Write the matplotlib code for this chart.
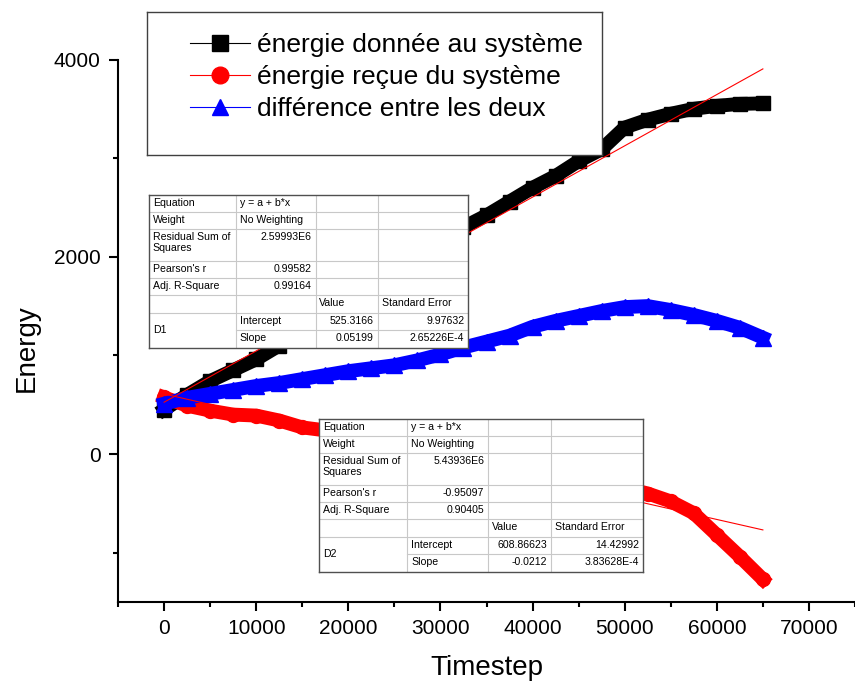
import matplotlib
matplotlib.use("Agg")
import matplotlib.pyplot as plt
from matplotlib.lines import Line2D
from matplotlib.ticker import MultipleLocator

plt.rcParams["font.family"] = ["Liberation Sans", "DejaVu Sans"]

# data
timestep = [0, 2500, 5000, 7500, 10000, 12500, 15000, 17500, 20000, 22500, 25000,
            27500, 30000, 32500, 35000, 37500, 40000, 42500, 45000, 47500, 50000,
            52500, 55000, 57500, 60000, 62500, 65000]
energie_donnee = [450, 600, 740, 850, 960, 1100, 1250, 1400, 1560, 1700, 1850,
                  2000, 2150, 2300, 2420, 2560, 2700, 2820, 2970, 3090, 3310,
                  3390, 3450, 3500, 3530, 3550, 3555]
energie_recue = [575, 490, 440, 400, 390, 340, 270, 240, 200, 150, 100,
                 50, 0, -60, -110, -150, -180, -200, -230, -280, -340,
                 -400, -480, -600, -820, -1040, -1270]
difference = [510, 570, 610, 650, 690, 720, 760, 800, 840, 870, 900,
              950, 1010, 1080, 1140, 1200, 1290, 1350, 1400, 1450, 1490,
              1500, 1460, 1410, 1350, 1280, 1180]

series_labels = ["énergie donnée au système", "énergie reçue du système",
                 "différence entre les deux"]

# linear fits (Origin tables)
fit1_a, fit1_b = 525.3166, 0.05199
fit2_a, fit2_b = 608.86623, -0.0212

stat_names = ["Equation", "Weight", "Residual Sum of\nSquares", "Pearson's r", "Adj. R-Square"]
fit1_stats = ["y = a + b*x", "No Weighting", "2.59993E6", "0.99582", "0.99164"]
fit2_stats = ["y = a + b*x", "No Weighting", "5.43936E6", "-0.95097", "0.90405"]
table_header = ["Value", "Standard Error"]
param_names = ["Intercept", "Slope"]
fit1_values = ["525.3166", "0.05199"]
fit1_errors = ["9.97632", "2.65226E-4"]
fit2_values = ["608.86623", "-0.0212"]
fit2_errors = ["14.42992", "3.83628E-4"]

W, H = 855, 685
fig = plt.figure(figsize=(W / 100, H / 100), dpi=100)


def px_rect(x0, y0, x1, y1):
    # pixel box (top-left origin) -> figure fraction rect
    return [x0 / W, 1 - y1 / H, (x1 - x0) / W, (y1 - y0) / H]


ax = fig.add_axes(px_rect(118, 59.5, 855, 602))

ax.plot(timestep, energie_donnee, color="black", lw=10, marker="s", ms=9.5,
        solid_joinstyle="round", zorder=2)
ax.plot(timestep, energie_recue, color="red", lw=10, marker="o", ms=10,
        solid_joinstyle="round", zorder=3)
ax.plot(timestep, difference, color="blue", lw=10, marker="^", ms=11,
        solid_joinstyle="round", zorder=4)

# fit lines over the data range
x_fit = [timestep[0], timestep[-1]]
ax.plot(x_fit, [fit1_a + fit1_b * x for x in x_fit], color="red", lw=0.8, zorder=5)
ax.plot(x_fit, [fit2_a + fit2_b * x for x in x_fit], color="red", lw=0.8, zorder=5)

ax.set_xlim(-5000, 75000)
ax.set_ylim(-1500, 4000)
ax.set_xticks(range(0, 70001, 10000))
ax.xaxis.set_minor_locator(MultipleLocator(5000))
ax.set_yticks([0, 2000, 4000])
ax.yaxis.set_minor_locator(MultipleLocator(1000))
ax.tick_params(which="major", direction="out", length=6.5, width=1.5,
               labelsize=15, pad=6)
ax.tick_params(which="minor", direction="out", length=3.5, width=1.5)
for s in ["top", "right"]:
    ax.spines[s].set_visible(False)
for s in ["left", "bottom"]:
    ax.spines[s].set_linewidth(1.5)

ax.set_xlabel("Timestep", fontsize=20)
ax.set_ylabel("Energy", fontsize=20)
ax.xaxis.set_label_coords(0.5, (602 - 668) / 542.5)
ax.xaxis.label.set_va("center")
ax.yaxis.set_label_coords((27 - 118) / 737, (602 - 348) / 542.5)
ax.yaxis.label.set_va("center")

# legend box
ax_leg = fig.add_axes(px_rect(147, 12, 602, 155), zorder=6)
ax_leg.set_xticks([])
ax_leg.set_yticks([])
for s in ax_leg.spines.values():
    s.set_color("#404040")
    s.set_linewidth(1)
handles = [
    Line2D([], [], color="black", lw=0.8, marker="s", ms=11, label=series_labels[0]),
    Line2D([], [], color="red", lw=0.8, marker="o", ms=12, label=series_labels[1]),
    Line2D([], [], color="blue", lw=0.8, marker="^", ms=12, label=series_labels[2]),
]
ax_leg.legend(handles=handles, loc="upper left", bbox_to_anchor=(0.0945, 0.85),
              frameon=False, borderpad=0, borderaxespad=0, fontsize=19,
              handlelength=2.27, handletextpad=0.27, labelspacing=0.3)


def draw_fit_table(box, stats, name, values, errors):
    tax = fig.add_axes(px_rect(*box), zorder=5)
    tax.set_xlim(0, 1)
    tax.set_ylim(1, 0)
    tax.set_xticks([])
    tax.set_yticks([])
    for s in tax.spines.values():
        s.set_color("#505050")
        s.set_linewidth(1)
    col_w = [0.272, 0.25, 0.195, 0.283]
    row_h = [1, 1, 1.85, 1, 1, 1.05, 1.0, 1.05]
    tot = sum(row_h)
    ys = [0]
    for h in row_h:
        ys.append(ys[-1] + h / tot)
    xs = [0]
    for w in col_w:
        xs.append(xs[-1] + w)
    grid = "#c8c8c8"
    for i in range(1, len(ys) - 1):
        x0 = xs[1] if i == 7 else 0
        tax.plot([x0, 1], [ys[i], ys[i]], color=grid, lw=0.8)
    for x in xs[1:-1]:
        tax.plot([x, x], [0, 1], color=grid, lw=0.8)

    fs = 7.6
    padx = 0.012
    pady = 0.02

    def put(row, col, text, ha="left"):
        x = xs[col] + padx if ha == "left" else xs[col + 1] - padx
        tax.text(x, ys[row] + pady, text, ha=ha, va="top", fontsize=fs,
                 linespacing=1.1)

    for i, lab in enumerate(stat_names):
        put(i, 0, lab)
        put(i, 1, stats[i], ha="left" if i < 2 else "right")
    put(5, 2, table_header[0])
    put(5, 3, table_header[1])
    tax.text(xs[0] + padx, ys[7], name, ha="left", va="center", fontsize=fs)
    for j in range(2):
        put(6 + j, 1, param_names[j])
        put(6 + j, 2, values[j], ha="right")
        put(6 + j, 3, errors[j], ha="right")


draw_fit_table((149, 195, 468, 348), fit1_stats, "D1", fit1_values, fit1_errors)
draw_fit_table((319, 419, 643, 572), fit2_stats, "D2", fit2_values, fit2_errors)

fig.savefig("out.png", dpi=100)
